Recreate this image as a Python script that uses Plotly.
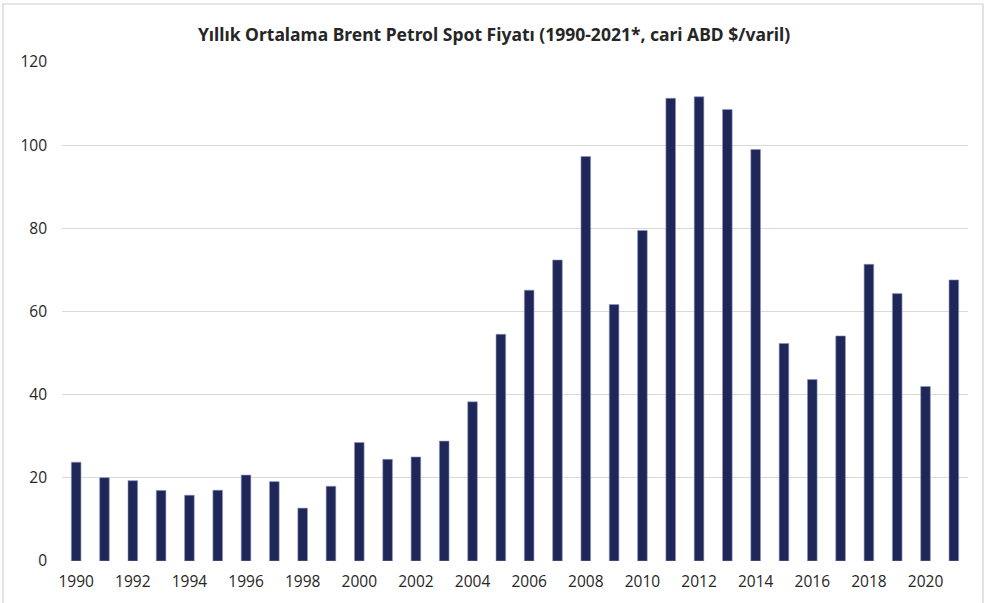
import plotly.graph_objects as go

years = list(range(1990, 2022))
prices = [23.76, 20.04, 19.32, 16.97, 15.82, 17.02, 20.67, 19.09, 12.72, 17.97,
          28.50, 24.44, 25.02, 28.83, 38.27, 54.52, 65.14, 72.39, 97.26, 61.67,
          79.50, 111.26, 111.63, 108.56, 98.97, 52.32, 43.64, 54.13, 71.34, 64.30,
          41.96, 67.6]
title_text = "Yıllık Ortalama Brent Petrol Spot Fiyatı (1990-2021*, cari ABD $/varil)"

fig = go.Figure(go.Bar(
    x=years, y=prices,
    marker=dict(color="#1f2759", line=dict(color="#8f96bd", width=0.6)),
    width=0.34,
))

fig.update_layout(
    width=988, height=603,
    margin=dict(l=62, r=20, t=62, b=42),
    paper_bgcolor="white", plot_bgcolor="white",
    title=dict(text="<b>" + title_text + "</b>", x=0.5, xanchor="center",
               y=0.942, yanchor="middle",
               font=dict(family="Noto Sans, sans-serif", size=17.5, color="#262626")),
    showlegend=False,
    xaxis=dict(range=[1989.5, 2021.5], tickmode="linear", tick0=1990, dtick=2,
               showgrid=False, zeroline=False, showline=False, ticks="",
               ticklabelstandoff=9,
               tickfont=dict(family="Open Sans, sans-serif", size=15.5, color="#262626")),
    yaxis=dict(range=[0, 120], tickmode="linear", dtick=20,
               showgrid=True, gridcolor="#d9d9d9", gridwidth=1,
               zeroline=False, showline=False, ticks="", ticklabelstandoff=14,
               tickfont=dict(family="Open Sans, sans-serif", size=15.5, color="#262626")),
    shapes=[dict(type="rect", xref="paper", yref="paper",
                 x0=(3 - 62) / 906, x1=(983 - 62) / 906,
                 y0=(561 - 610) / 499, y1=(561 - 4) / 499,
                 line=dict(color="#d0d0d0", width=1.2), layer="above")],
)

fig.write_html("out.html", config={"displayModeBar": False},
               post_script="document.body.style.margin='0';")
